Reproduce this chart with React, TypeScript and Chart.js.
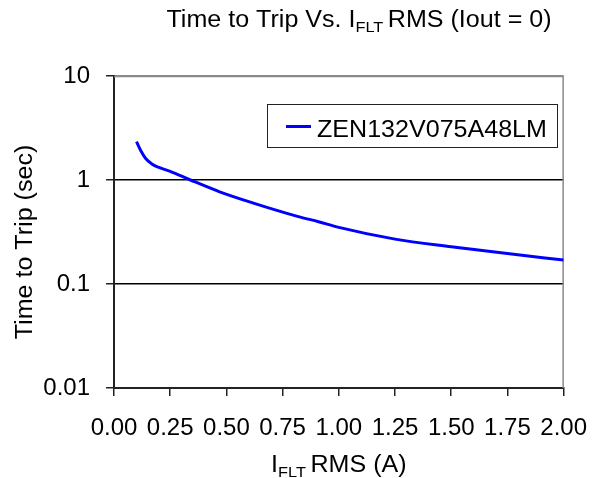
import React, { useEffect, useRef } from 'react';
import { Chart, registerables } from 'chart.js';

Chart.register(...registerables);

// ---- data ----
const currentA = [0.1, 0.12, 0.14, 0.17, 0.2, 0.25, 0.34, 0.47, 0.62, 0.82, 0.91, 1.0, 1.25, 1.5, 1.75, 2.0];
const tripSec = [2.34, 1.9, 1.62, 1.42, 1.32, 1.21, 1.0, 0.77, 0.6, 0.445, 0.397, 0.35, 0.27, 0.228, 0.196, 0.17];
const xTicks = [0, 0.25, 0.5, 0.75, 1.0, 1.25, 1.5, 1.75, 2.0];
const yTicks = [0.01, 0.1, 1, 10];
const yTickLabels = ['0.01', '0.1', '1', '10'];
const seriesLabel = 'ZEN132V075A48LM';

const FAMILY = '"Liberation Sans", Arial, Helvetica, sans-serif';
const MAIN = 23;
const SUB = 15;
const SX = 1.09;

type Part = { t: string; sub?: boolean };

function drawParts(
  ctx: CanvasRenderingContext2D,
  parts: Part[],
  cx: number,
  baseline: number,
  rotate: boolean
) {
  ctx.save();
  ctx.translate(cx, baseline);
  if (rotate) ctx.rotate(-Math.PI / 2);
  ctx.scale(SX, 1);
  ctx.fillStyle = '#000';
  ctx.textBaseline = 'alphabetic';
  ctx.textAlign = 'left';
  let total = 0;
  for (const p of parts) {
    ctx.font = `${p.sub ? SUB : MAIN}px ${FAMILY}`;
    total += ctx.measureText(p.t).width;
  }
  let cur = -total / 2;
  for (const p of parts) {
    ctx.font = `${p.sub ? SUB : MAIN}px ${FAMILY}`;
    ctx.fillText(p.t, cur, p.sub ? 5 : 0);
    cur += ctx.measureText(p.t).width;
  }
  ctx.restore();
}

const framePlugin = {
  id: 'plotFrame',
  beforeDatasetsDraw(chart: any) {
    const ctx: CanvasRenderingContext2D = chart.ctx;
    const a = chart.chartArea;
    ctx.save();
    ctx.strokeStyle = '#8a8a8a';
    ctx.lineWidth = 1.5;
    ctx.beginPath();
    ctx.moveTo(a.left, a.top + 0.5);
    ctx.lineTo(a.right, a.top + 0.5);
    ctx.moveTo(a.right - 0.5, a.top);
    ctx.lineTo(a.right - 0.5, a.bottom);
    ctx.stroke();
    ctx.restore();
  },
};

const textPlugin = {
  id: 'customText',
  afterDraw(chart: any) {
    const ctx: CanvasRenderingContext2D = chart.ctx;
    const area = chart.chartArea;
    // main title
    drawParts(ctx, [{ t: 'Time to Trip Vs. I' }, { t: 'FLT ', sub: true }, { t: 'RMS (Iout = 0)' }], 359, 27, false);
    // x title
    drawParts(ctx, [{ t: 'I' }, { t: 'FLT ', sub: true }, { t: 'RMS (A)' }], (area.left + area.right) / 2, 472, false);
    // y title
    drawParts(ctx, [{ t: 'Time to Trip (sec)' }], 32, 242, true);

    // legend
    const ds = chart.data.datasets[0];
    ctx.save();
    ctx.fillStyle = '#fff';
    ctx.fillRect(267.5, 104.5, 290, 43);
    ctx.strokeStyle = '#222';
    ctx.lineWidth = 1;
    ctx.strokeRect(267.5, 104.5, 290, 43);
    ctx.strokeStyle = ds.borderColor;
    ctx.lineWidth = 3;
    ctx.beginPath();
    ctx.moveTo(286, 126.5);
    ctx.lineTo(311, 126.5);
    ctx.stroke();
    ctx.translate(317, 136.5);
    ctx.scale(SX, 1);
    ctx.fillStyle = '#000';
    ctx.font = `${MAIN}px ${FAMILY}`;
    ctx.textBaseline = 'alphabetic';
    ctx.fillText(ds.label, 0, 0);
    ctx.restore();
  },
};

export default function App() {
  const ref = useRef<HTMLCanvasElement | null>(null);

  useEffect(() => {
    if (!ref.current) return;
    const chart = new Chart(ref.current, {
      type: 'line',
      data: {
        datasets: [
          {
            label: seriesLabel,
            data: currentA.map((x, i) => ({ x, y: tripSec[i] })),
            borderColor: '#0000ff',
            backgroundColor: '#0000ff',
            borderWidth: 3,
            pointRadius: 0,
            fill: false,
            tension: 0.4,
            cubicInterpolationMode: 'monotone',
          },
        ],
      },
      options: {
        animation: false,
        responsive: false,
        layout: { padding: { left: 0, top: 76, right: 40, bottom: 0 } },
        plugins: {
          legend: { display: false },
          title: { display: false },
          tooltip: { enabled: false },
        },
        scales: {
          x: {
            type: 'linear',
            min: 0,
            max: 2,
            afterBuildTicks: (s: any) => {
              s.ticks = xTicks.map((v) => ({ value: v }));
            },
            afterFit: (s: any) => {
              s.height = 90;
            },
            ticks: {
              font: { size: 24, family: FAMILY },
              color: '#000',
              padding: 18,
              maxRotation: 0,
              autoSkip: false,
              callback: (v: any) => Number(v).toFixed(2),
            },
            grid: {
              drawOnChartArea: false,
              tickColor: '#222',
              tickLength: 8,
              lineWidth: 1.5,
              tickWidth: 1.5,
            },
            border: { color: '#222', width: 2 },
          },
          y: {
            type: 'logarithmic',
            min: 0.01,
            max: 10,
            afterBuildTicks: (s: any) => {
              s.ticks = yTicks.map((v) => ({ value: v }));
            },
            afterFit: (s: any) => {
              s.width = 114;
            },
            ticks: {
              font: { size: 24, family: FAMILY },
              color: '#000',
              padding: 16,
              autoSkip: false,
              callback: (v: any) => {
                const i = yTicks.findIndex((t) => Math.abs(t - Number(v)) / t < 1e-6);
                return i >= 0 ? yTickLabels[i] : '';
              },
            },
            grid: {
              color: (c: any) => (c.tick && Math.abs(c.tick.value - 10) < 1e-6 ? '#8a8a8a' : '#000'),
              lineWidth: 1.5,
              tickColor: '#222',
              tickLength: 8,
              tickWidth: 1.5,
            },
            border: { color: '#222', width: 2 },
          },
        },
      },
      plugins: [framePlugin, textPlugin],
    } as any);
    return () => chart.destroy();
  }, []);

  return (
    <div style={{ position: 'fixed', left: 0, top: 0, width: 605, height: 478, background: '#fff' }}>
      <canvas ref={ref} width={605} height={478} style={{ display: 'block' }} />
    </div>
  );
}
